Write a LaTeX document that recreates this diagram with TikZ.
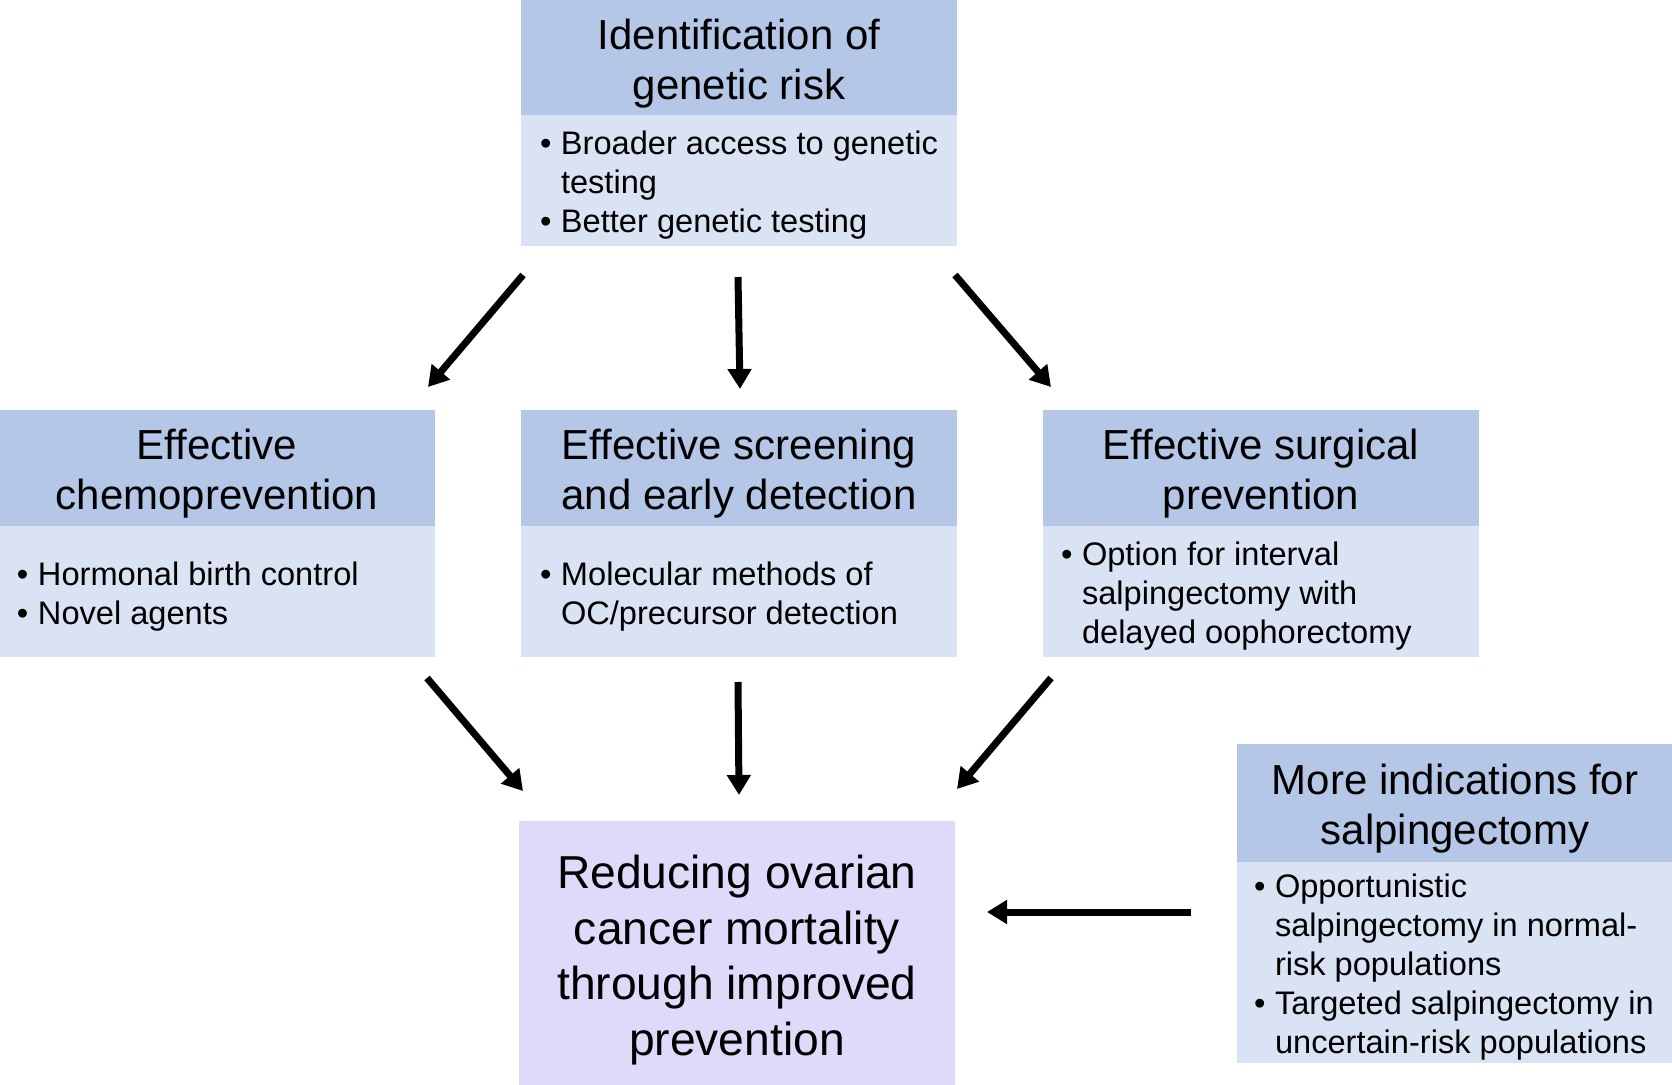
\documentclass[tikz,border=0pt]{standalone}
\usepackage{fontspec}
\setmainfont{Liberation Sans}
\usetikzlibrary{arrows.meta}
\definecolor{hdr}{RGB}{180,199,231}
\definecolor{bdy}{RGB}{218,227,243}
\definecolor{goal}{RGB}{221,218,250}
\newcommand{\bul}{\llap{\makebox[10.5pt][l]{•}}}
\begin{document}
\begin{tikzpicture}[x=0.5pt,y=-0.5pt,
  hdrbox/.style={rectangle, fill=hdr, inner sep=0pt, minimum width=218pt},
  hdrtxt/.style={inner sep=0pt, align=center, yshift=-3pt,
    font=\fontsize{21pt}{25pt}\selectfont},
  bdybox/.style={rectangle, fill=bdy, inner sep=0pt, minimum width=218pt},
  bdytxt/.style={inner sep=0pt, anchor=west, align=left, yshift=-2.5pt,
    font=\fontsize{16.3pt}{19.5pt}\selectfont},
  goalbox/.style={rectangle, fill=goal, inner sep=0pt, minimum width=218pt, minimum height=132pt},
  goaltxt/.style={inner sep=0pt, align=center, yshift=-3.5pt,
    font=\fontsize{23.1pt}{27.75pt}\selectfont},
  arr/.style={line width=3.5pt, -{Triangle[length=10pt,width=11.5pt]}}]
\useasboundingbox (0,0) rectangle (1672,1085);

% top box
\node[hdrbox, minimum height=57.5pt] (topH) at (739,57.5) {};
\node[hdrtxt] (topHT) at (topH.center) {Identification of\\genetic risk};
\node[bdybox, minimum height=65.5pt] (topB) at (739,180.5) {};
\node[bdytxt] (topT) at ([xshift=20pt]topB.west) {\bul Broader access to genetic\\testing\\\bul Better genetic testing};

% left box
\node[hdrbox, minimum height=58pt] (chemH) at (217,468) {};
\node[hdrtxt] (chemHT) at (chemH.center) {Effective\\chemoprevention};
\node[bdybox, minimum height=65.5pt] (chemB) at (217,591.5) {};
\node[bdytxt] (chemT) at ([xshift=19.5pt]chemB.west) {\bul Hormonal birth control\\\bul Novel agents};

% middle box
\node[hdrbox, minimum height=58pt] (scrH) at (739,468) {};
\node[hdrtxt] (scrHT) at (scrH.center) {Effective screening\\and early detection};
\node[bdybox, minimum height=65.5pt] (scrB) at (739,591.5) {};
\node[bdytxt] (scrT) at ([xshift=20pt]scrB.west) {\bul Molecular methods of\\OC/precursor detection};

% right box
\node[hdrbox, minimum height=58pt] (surH) at (1261,468) {};
\node[hdrtxt] (surHT) at (surH.center) {Effective surgical\\prevention};
\node[bdybox, minimum height=65.5pt] (surB) at (1261,591.5) {};
\node[bdytxt] (surT) at ([xshift=19.5pt]surB.west) {\bul Option for interval\\salpingectomy with\\delayed oophorectomy};

% goal box
\node[goalbox] (goal) at (737,953) {};
\node[goaltxt] (goalT) at (goal.center) {Reducing ovarian\\cancer mortality\\through improved\\prevention};

% more indications box
\node[hdrbox, minimum height=59pt] (salH) at (1455,803) {};
\node[hdrtxt] (salHT) at (salH.center) {More indications for\\salpingectomy};
\node[bdybox, minimum height=100.5pt] (salB) at (1455,962.5) {};
\node[bdytxt] (salT) at ([xshift=19pt]salB.west) {\bul Opportunistic\\salpingectomy in normal-\\risk populations\\\bul Targeted salpingectomy in\\uncertain-risk populations};

% arrow end points
\coordinate (a1s) at (523,275);  \coordinate (a1e) at (428,387);
\coordinate (a2s) at (738,277);  \coordinate (a2e) at (740,389);
\coordinate (a3s) at (955,275);  \coordinate (a3e) at (1051,387);
\coordinate (b1s) at (427,678);  \coordinate (b1e) at (523,791);
\coordinate (b2s) at (738,682);  \coordinate (b2e) at (739,795);
\coordinate (b3s) at (1051,678); \coordinate (b3e) at (957,789);
\coordinate (cs) at (1191,912);  \coordinate (ce) at (987,912);

\draw[arr] (a1s) -- (a1e);
\draw[arr] (a2s) -- (a2e);
\draw[arr] (a3s) -- (a3e);
\draw[arr] (b1s) -- (b1e);
\draw[arr] (b2s) -- (b2e);
\draw[arr] (b3s) -- (b3e);
\draw[arr] (cs) -- (ce);
\end{tikzpicture}
\end{document}
